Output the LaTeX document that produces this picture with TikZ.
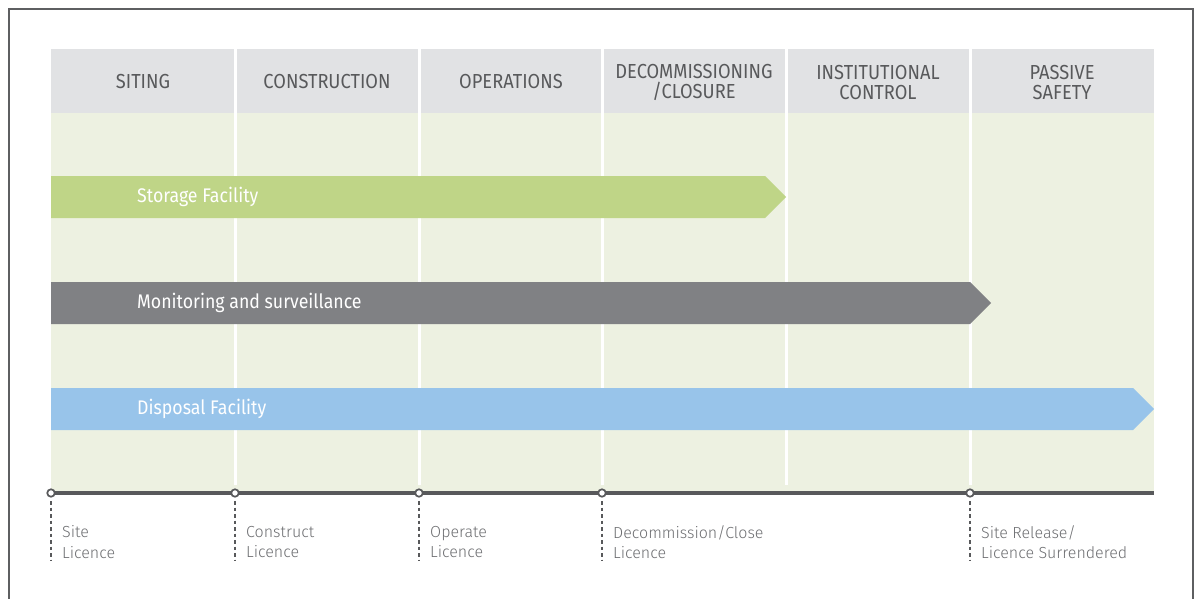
\documentclass[tikz,border=0pt]{standalone}
\usepackage{fontspec}
\usetikzlibrary{calc}
\setmainfont{Fira Sans Light}
\newfontfamily\hdrfont{Fira Sans}[FakeStretch=0.9]
\newfontfamily\barfont{Fira Sans}[FakeStretch=0.9]
\definecolor{hdrgray}{HTML}{E1E2E4}
\definecolor{bggreen}{HTML}{EDF1E1}
\definecolor{storegreen}{HTML}{BFD587}
\definecolor{mongray}{HTML}{808184}
\definecolor{dispblue}{HTML}{98C4EA}
\definecolor{darkgray}{HTML}{58595B}
\definecolor{txtgray}{HTML}{6D6E71}
\definecolor{framegray}{HTML}{5E5F61}
\tikzset{
  hdrlabel/.style={text=darkgray, font=\hdrfont\fontsize{20.3}{20.3}\selectfont, align=center, inner sep=0pt},
  barlabel/.style={text=white, font=\barfont\fontsize{19.7}{22}\selectfont, anchor=west, inner sep=0pt},
  sep/.style={white, line width=3pt},
  milestone/.style={circle, draw=darkgray, fill=white, line width=1.7pt, minimum size=7.5pt, inner sep=0pt},
  dashline/.style={darkgray, line width=1.2pt, dash pattern=on 3.5pt off 3pt},
  mslabel/.style={text=txtgray, font=\fontsize{16}{20.5}\selectfont, align=left, anchor=west, inner sep=0pt},
}
\begin{document}
\begin{tikzpicture}[x=1pt,y=-1pt]
\useasboundingbox (0,0) rectangle (1195,598);
\fill[white] (0,0) rectangle (1195,598);
\begin{scope}
\clip (0,0) rectangle (1195,598);
\draw[framegray, line width=2.2pt] (9,620) -- (9,9) -- (1193,9) -- (1193,620);
\end{scope}
% header and background
\fill[hdrgray] (51,49) rectangle (1154,113);
\fill[bggreen] (51,113) rectangle (1154,493);
\foreach \x in {235,419,602,786,970} { \draw[sep] (\x,49) -- (\x,485); }
% header labels
\node[hdrlabel] (h1) at (143,81.5) {SITING};
\node[hdrlabel] (h2) at (327,81.5) {CONSTRUCTION};
\node[hdrlabel] (h3) at (511,81.5) {OPERATIONS};
\node[hdrlabel] (h4) at (694,82.5) {DECOMMISSIONING\\/CLOSURE};
\node[hdrlabel] (h5) at (878,82.5) {INSTITUTIONAL\\CONTROL};
\node[hdrlabel] (h6) at (1062,82.5) {PASSIVE\\SAFETY};
% bars
\fill[storegreen] (51,176) -- (765,176) -- (786,197) -- (765,218) -- (51,218) -- cycle;
\node[barlabel] (b1) at (137,197) {Storage Facility};
\fill[mongray] (51,282) -- (970,282) -- (991,303) -- (970,324) -- (51,324) -- cycle;
\node[barlabel] (b2) at (137,303) {Monitoring and surveillance};
\fill[dispblue] (51,388) -- (1133,388) -- (1154,409) -- (1133,430) -- (51,430) -- cycle;
\node[barlabel] (b3) at (137,409) {Disposal Facility};
% timeline
\coordinate (tend) at (1154,493);
\coordinate (m1) at (51,493);
\coordinate (m2) at (235,493);
\coordinate (m3) at (419,493);
\coordinate (m4) at (602,493);
\coordinate (m5) at (970,493);
\draw[darkgray, line width=3.2pt] (m1) -- (tend);
\foreach \m/\lab in {m1/{Site\\Licence}, m2/{Construct\\Licence}, m3/{Operate\\Licence}, m4/{Decommission/Close\\Licence}, m5/{Site Release/\\Licence Surrendered}} {
  \coordinate (\m d) at ($(\m)+(0,68)$);
  \draw[dashline] ($(\m)+(0,8)$) -- (\m d);
  \node[milestone] (\m c) at (\m) {};
  \node[mslabel] (\m l) at ($(\m)+(11,49)$) {\lab};
}
\end{tikzpicture}
\end{document}
